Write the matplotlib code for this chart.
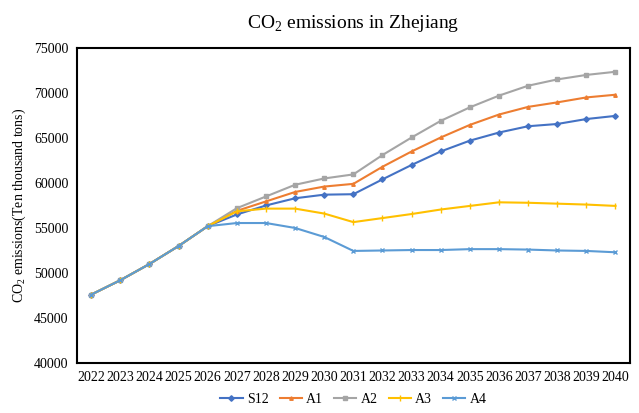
import matplotlib.pyplot as plt

plt.rcParams['font.family'] = ['Liberation Serif', 'DejaVu Serif']
plt.rcParams['mathtext.fontset'] = 'custom'
plt.rcParams['mathtext.rm'] = 'Liberation Serif'

years = [str(y) for y in range(2022, 2041)]
base = [47600, 49200, 51000, 53000, 55200]
s12 = base + [56500, 57500, 58300, 58700, 58750, 60400, 62000, 63500, 64700, 65600, 66300, 66550, 67100, 67450]
a1 = base + [56900, 57950, 59000, 59600, 59900, 61800, 63500, 65050, 66450, 67600, 68450, 68950, 69500, 69800]
a2 = base + [57200, 58500, 59800, 60500, 60950, 63100, 65050, 66900, 68400, 69700, 70800, 71500, 72000, 72350]
a3 = base + [56850, 57150, 57150, 56600, 55650, 56100, 56550, 57050, 57450, 57850, 57800, 57700, 57600, 57450]
a4 = base + [55550, 55550, 55000, 54000, 52450, 52500, 52550, 52550, 52650, 52650, 52600, 52500, 52450, 52300]

series = [('S12', s12, '#4472C4', 'D', 2.8),
          ('A1', a1, '#ED7D31', '^', 2.5),
          ('A2', a2, '#A5A5A5', 's', 3.2),
          ('A3', a3, '#FFC000', '|', 4),
          ('A4', a4, '#5B9BD5', 'x', 3.2)]

fig = plt.figure(figsize=(6.39, 4.13), dpi=100)
ax = fig.add_axes([0.12, 0.121, 0.866, 0.763])
x = range(len(years))
for name, vals, col, mk, ms in series:
    ax.plot(x, vals, color=col, marker=mk, markersize=ms, linewidth=1.5, label=name)

ax.set_xlim(-0.5, len(years) - 0.5)
ax.set_ylim(40000, 75000)
ax.set_yticks(range(40000, 75001, 5000))
ax.set_xticks(list(x))
ax.set_xticklabels(years)
ax.tick_params(length=0, labelsize=10, pad=6)
for sp in ax.spines.values():
    sp.set_linewidth(1.5)
    sp.set_color('black')

ax.set_title('CO$_2$ emissions in Zhejiang', fontsize=14, pad=14)
ax.set_ylabel('CO$_2$ emissions(Ten thousand tons)', fontsize=10)
ax.legend(loc='upper center', bbox_to_anchor=(0.5, -0.055), ncol=5, frameon=False,
          fontsize=10, handlelength=1.6, handletextpad=0.3, columnspacing=0.8)

plt.savefig('out.png')
